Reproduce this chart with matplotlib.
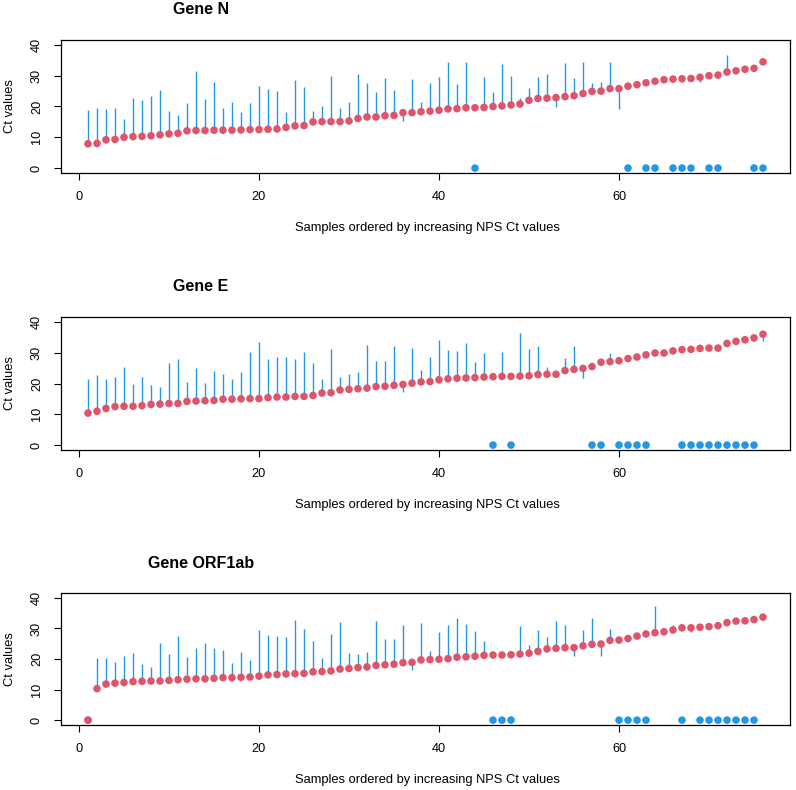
import numpy as np
import matplotlib
matplotlib.use("Agg")
import matplotlib.pyplot as plt

plt.rcParams['font.family'] = ['Liberation Sans', 'DejaVu Sans']

samples = np.arange(1, 77)

nps_N = [7.9, 8.0, 9.2, 9.3, 10.0, 10.2, 10.3, 10.5, 10.8, 11.1, 11.3, 12.1, 12.2, 12.2, 12.3, 12.3,
         12.3, 12.4, 12.5, 12.5, 12.6, 12.7, 13.2, 13.7, 13.8, 15.0, 15.1, 15.1, 15.1, 15.3, 16.1, 16.6,
         16.6, 17.0, 17.1, 18.0, 18.0, 18.3, 18.5, 18.8, 19.2, 19.3, 19.6, 19.6, 19.7, 20.0, 20.2, 20.5,
         20.8, 22.0, 22.6, 22.7, 22.9, 23.2, 23.5, 24.2, 24.9, 25.0, 25.8, 25.8, 26.6, 27.1, 27.7, 28.2,
         28.7, 28.9, 29.0, 29.1, 29.5, 30.0, 30.2, 31.2, 31.6, 32.1, 32.4, 34.5]
sal_N = [18.8, 19.5, 19.1, 19.5, 16.1, 22.7, 22.1, 23.5, 25.3, 18.6, 17.1, 21.1, 31.5, 22.3, 27.8, 19.5,
         21.6, 18.3, 21.1, 26.5, 25.8, 25.0, 18.2, 28.6, 26.3, 18.5, 20.0, 29.9, 19.5, 21.4, 30.7, 27.5,
         24.7, 29.1, 25.4, 15.3, 29.0, 21.4, 27.7, 29.6, 34.6, 27.4, 34.5, 0, 29.5, 24.6, 33.8, 29.8,
         22.8, 25.9, 29.5, 30.7, 19.9, 34.0, 29.3, 34.6, 27.5, 28.0, 34.3, 19.3, 0, 27.1, 0, 0,
         28.7, 0, 0, 0, 28.0, 0, 0, 36.7, 31.6, 32.1, 0, 0]

nps_E = [10.4, 11.0, 11.9, 12.5, 12.6, 12.6, 12.8, 13.2, 13.3, 13.5, 13.5, 14.2, 14.3, 14.4, 14.5, 14.9,
         14.9, 15.0, 15.1, 15.1, 15.4, 15.6, 15.6, 15.8, 15.8, 16.1, 16.9, 17.0, 17.9, 18.1, 18.3, 18.5,
         19.0, 19.1, 19.4, 19.7, 20.1, 20.5, 20.6, 21.2, 21.5, 21.7, 21.8, 21.9, 22.1, 22.2, 22.3, 22.3,
         22.4, 22.5, 22.9, 23.0, 23.0, 24.2, 24.6, 24.9, 25.5, 26.9, 27.1, 27.4, 28.1, 28.6, 29.3, 29.9,
         29.9, 30.6, 31.0, 31.1, 31.4, 31.5, 31.5, 33.0, 33.7, 34.2, 34.8, 36.0]
sal_E = [21.6, 22.7, 21.6, 22.2, 25.3, 19.7, 22.2, 19.5, 18.9, 26.5, 27.8, 20.6, 25.0, 20.3, 23.9, 23.1,
         21.3, 23.6, 30.3, 33.4, 28.0, 28.6, 28.6, 28.0, 30.2, 26.5, 21.6, 31.2, 22.2, 23.1, 23.6, 32.5,
         27.4, 27.4, 32.1, 17.1, 31.6, 24.3, 28.6, 34.1, 30.9, 30.5, 33.1, 26.9, 29.8, 0, 30.3, 0,
         36.4, 31.1, 32.1, 25.2, 23.0, 28.4, 32.2, 21.9, 0, 0, 29.8, 0, 0, 0, 0, 31.0,
         31.2, 30.6, 0, 0, 0, 0, 0, 0, 0, 0, 0, 33.9]

nps_O = [0.0, 10.3, 11.8, 12.1, 12.3, 12.6, 12.7, 12.8, 12.8, 13.0, 13.2, 13.4, 13.5, 13.5, 13.7, 13.9,
         13.9, 14.0, 14.1, 14.4, 14.8, 14.9, 15.1, 15.2, 15.3, 15.8, 15.9, 16.1, 16.7, 16.9, 17.2, 17.4,
         17.9, 18.1, 18.3, 18.8, 18.9, 19.7, 19.8, 19.9, 20.1, 20.6, 20.7, 20.9, 21.2, 21.3, 21.3, 21.4,
         21.6, 21.9, 22.5, 23.3, 23.5, 23.7, 23.7, 24.3, 24.8, 24.9, 26.1, 26.2, 26.7, 27.5, 28.2, 28.6,
         28.9, 29.5, 30.2, 30.2, 30.4, 30.6, 30.9, 31.9, 32.4, 32.5, 32.9, 33.7]
sal_O = [0, 20.3, 20.3, 19.1, 21.0, 22.1, 18.5, 17.3, 25.2, 21.8, 27.4, 20.5, 23.7, 25.2, 23.7, 22.9,
         18.8, 22.4, 19.8, 29.6, 27.7, 27.4, 27.2, 32.7, 29.7, 25.8, 20.2, 28.1, 32.2, 22.1, 21.6, 22.4,
         32.4, 26.4, 26.5, 31.0, 16.5, 31.7, 22.7, 29.0, 31.0, 33.5, 31.6, 29.1, 25.9, 0, 0, 0,
         30.9, 24.5, 29.4, 27.3, 32.5, 31.0, 21.1, 29.6, 33.5, 20.9, 29.7, 0, 0, 0, 0, 37.3,
         28.9, 31.0, 0, 28.8, 0, 0, 0, 0, 0, 0, 0, 33.7]

titles = ["Gene N", "Gene E", "Gene ORF1ab"]
panels = [(nps_N, sal_N), (nps_E, sal_E), (nps_O, sal_O)]
xlabel = "Samples ordered by increasing NPS Ct values"
ylabel = "Ct values"
xticks = [0, 20, 40, 60]
yticks = [0, 10, 20, 30, 40]

RED = "#DF536B"
BLUE = "#2297E6"

W, H = 796, 790
fig = plt.figure(figsize=(W / 100, H / 100), dpi=100)

# axes boxes in pixels: (top, bottom)
boxes = [(40, 173), (317, 450), (593, 725)]
left_px, right_px = 61, 790

for (top, bot), title, (nps, sal) in zip(boxes, titles, panels):
    ax = fig.add_axes([left_px / W, 1 - bot / H, (right_px - left_px) / W, (bot - top) / H])
    nps = np.array(nps, dtype=float)
    sal = np.array(sal, dtype=float)
    pos = sal != 0
    ax.vlines(samples[pos], nps[pos], sal[pos], colors=BLUE, lw=1.0, zorder=1)
    ax.scatter(samples[~pos], sal[~pos], s=30, color=BLUE, edgecolors='none', zorder=2)
    ax.scatter(samples, nps, s=30, color=RED, edgecolors='none', zorder=3)
    ax.set_xlim(-2, 79)
    ax.set_ylim(-1.6, 41.6)
    ax.set_xticks(xticks)
    ax.set_yticks(yticks)
    ax.tick_params(axis='both', direction='out', length=5, width=0.8, labelsize=9.2, pad=8)
    for lab in ax.get_yticklabels():
        lab.set_rotation(90)
        lab.set_va('center')
    for sp in ax.spines.values():
        sp.set_linewidth(0.9)
        sp.set_color('black')
    fig.text(201 / W, 1 - (top - 30) / H, title, ha='center', va='center',
             fontsize=11.5, fontweight='bold')
    fig.text(427 / W, 1 - (bot + 55) / H, xlabel, ha='center', va='center', fontsize=9.3)
    fig.text(10 / W, 1 - ((top + bot) / 2) / H, ylabel, ha='center', va='center',
             rotation=90, fontsize=9.3)

fig.savefig("out.png", dpi=100)
